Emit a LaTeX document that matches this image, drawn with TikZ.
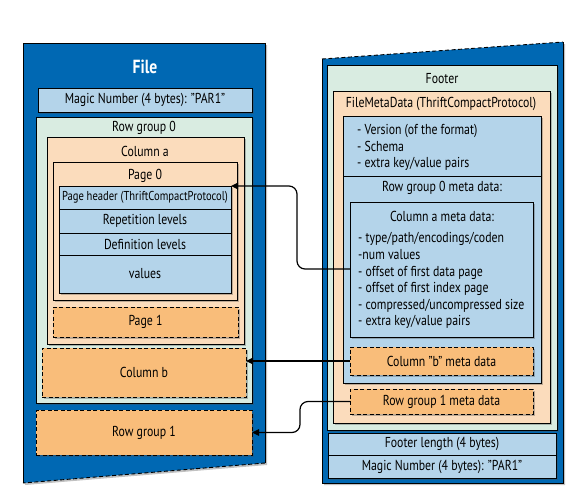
\documentclass[tikz,border=0pt]{standalone}
\usepackage{fontspec}
\setmainfont[FakeStretch=0.82]{PT Sans}
\usetikzlibrary{shadows,arrows.meta}
\definecolor{panelblue}{RGB}{0,104,179}
\definecolor{lblue}{RGB}{180,212,234}
\definecolor{lgreen}{RGB}{217,236,225}
\definecolor{peach}{RGB}{251,220,188}
\definecolor{orangebox}{RGB}{249,189,122}
\begin{document}
\begin{tikzpicture}[x=1pt,y=-1pt,
  shad/.style={drop shadow={shadow xshift=2pt,shadow yshift=-2pt,opacity=0.35,fill=black!70}},
  boxbase/.style={draw=black,line width=0.9pt,anchor=north west,inner sep=0pt,outer sep=0pt,shad,
    font=\fontsize{14.4}{16}\selectfont},
  bluebox/.style={boxbase,fill=lblue},
  greenbox/.style={boxbase,fill=lgreen},
  peachbox/.style={boxbase,fill=peach},
  orbox/.style={boxbase,fill=orangebox,dashed,dash pattern=on 4pt off 2.5pt},
  lbl/.style={inner sep=0pt,font=\fontsize{14.4}{16}\selectfont},
  lst/.style={inner sep=0pt,anchor=north west,align=left,font=\fontsize{14.4}{16.6}\selectfont},
  conn/.style={draw=black,line width=1.2pt,rounded corners=8pt,-{Triangle[length=7pt,width=6.5pt]}}
]
\useasboundingbox (0,0) rectangle (573,501);
% ---------- left panel ----------
\fill[panelblue,shad] (23,43) -- (265,43) -- (265,463) -- (23,483) -- cycle;
\draw[black,line width=0.8pt] (23,483) -- (23,43) -- (265,43) -- (265,463);
\draw[black,line width=0.9pt,dashed,dash pattern=on 4pt off 2.5pt] (265,463) -- (23,483);
\node[text=white,font=\fontsize{19}{21}\bfseries\selectfont,inner sep=0pt] (filet) at (145,67) {File};
\node[bluebox,minimum width=214pt,minimum height=24pt] (magicL) at (38,88) {Magic Number (4 bytes): "PAR1"};
\node[greenbox,minimum width=216pt,minimum height=286pt] (rg0) at (36,117) {};
\node[lbl] (rg0t) at (144,128) {Row group 0};
\node[peachbox,minimum width=197pt,minimum height=207pt] (cola) at (47,137) {};
\node[lbl] (colat) at (145,151) {Column a};
\node[peachbox,minimum width=184pt,minimum height=138pt] (page0) at (53,162) {};
\node[lbl] (page0t) at (145,176) {Page 0};
\node[bluebox,minimum width=172pt,minimum height=23pt,font=\fontsize{12.9}{14}\selectfont] (phdr) at (59,186) {Page header (ThriftCompactProtocol)};
\node[bluebox,minimum width=172pt,minimum height=24pt] (rep) at (59,209) {Repetition levels};
\node[bluebox,minimum width=172pt,minimum height=22pt] (def) at (59,233) {Definition levels};
\node[bluebox,minimum width=172pt,minimum height=38pt] (vals) at (59,255) {values};
\node[orbox,minimum width=185pt,minimum height=30pt] (page1) at (53,307) {Page 1};
\node[orbox,minimum width=204pt,minimum height=49pt] (colb) at (42,348) {Column b};
\node[orbox,minimum width=216pt,minimum height=45pt] (rg1) at (36,410) {Row group 1};
% ---------- right panel ----------
\fill[panelblue,shad] (322,59) -- (563,42) -- (563,483) -- (322,483) -- cycle;
\draw[black,line width=0.8pt] (322,59) -- (322,483) -- (563,483) -- (563,42);
\draw[black,line width=0.9pt,dashed,dash pattern=on 4pt off 2.5pt] (322,59) -- (563,42);
\node[greenbox,minimum width=230pt,minimum height=365pt] (footer) at (327,65) {};
\node[lbl] (footert) at (442,79) {Footer};
\node[peachbox,minimum width=217pt,minimum height=332pt] (fmd) at (333,91) {};
\node[lbl] (fmdt) at (441,104) {FileMetaData (ThriftCompactProtocol)};
\node[bluebox,minimum width=198pt,minimum height=60pt] (ver) at (343,116) {};
\node[lst] (vert) at (357,124) {- Version (of the format)\\- Schema\\- extra key/value pairs};
\node[bluebox,minimum width=198pt,minimum height=207pt] (rg0m) at (343,176) {};
\node[lbl] (rg0mt) at (442,188) {Row group 0 meta data:};
\node[bluebox,minimum width=183pt,minimum height=135pt] (colam) at (350,202) {};
\node[lbl] (colamt) at (442,216) {Column a meta data:};
\node[lst] (colal) at (358,232.5) {- type/path/encodings/coden\\-num values\\- offset of first data page\\- offset of first index page\\- compressed/uncompressed size\\- extra key/value pairs};
\node[orbox,minimum width=183pt,minimum height=28pt] (colbm) at (350,347) {Column "b" meta data};
\node[orbox,minimum width=183pt,minimum height=25pt] (rg1m) at (350,389) {Row group 1 meta data};
\node[bluebox,minimum width=228pt,minimum height=22pt] (flen) at (328,433) {Footer length (4 bytes)};
\node[bluebox,minimum width=228pt,minimum height=23pt] (magicR) at (328,455) {Magic Number (4 bytes): "PAR1"};
% ---------- connectors ----------
\coordinate (src1) at (colam.west |- 0,269);
\draw[conn] (src1) -- (297,269) -- (297,186) -- (phdr.north east);
\draw[conn] (colbm.west) -- (colbm.west -| colb.east);
\draw[conn] (rg1m.west) -- (300,401.5) -- (300,432.5) -- (rg1.east);
\end{tikzpicture}
\end{document}
